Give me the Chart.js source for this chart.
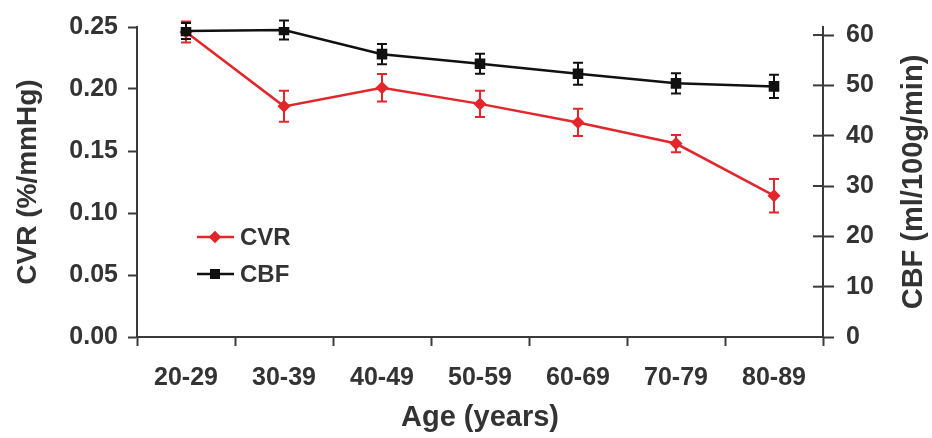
<!DOCTYPE html>
<html>
<head>
<meta charset="utf-8">
<script src="https://cdn.jsdelivr.net/npm/chart.js@4"></script>
<style>
    html, body { margin: 0; padding: 0; background: #fff; }
    #wrap { width: 932px; height: 438px; position: relative; }
</style>
</head>
<body>
<div id="wrap"><canvas id="ageChart"></canvas></div>
<script>
// values
const ageGroups = ['20-29', '30-39', '40-49', '50-59', '60-69', '70-79', '80-89'];
const cvrMean = [0.246, 0.186, 0.201, 0.188, 0.173, 0.156, 0.114];
const cvrErr = [0.0085, 0.0125, 0.011, 0.0105, 0.011, 0.007, 0.0135];
const cbfMean = [60.8, 61.0, 56.2, 54.3, 52.3, 50.4, 49.8];
const cbfErr = [1.6, 1.9, 2.0, 2.0, 2.2, 2.0, 2.3];
const cvrTicks = [0, 0.05, 0.10, 0.15, 0.20, 0.25];
const cbfTicks = [0, 10, 20, 30, 40, 50, 60];

const textColor = '#333333';
const axisColor = '#3a3a3a';
const red = '#e3262b';
const FONT = 'Arial, "Liberation Sans", sans-serif';

// error bars, right axis cross ticks, legend and right title
const extrasPlugin = {
    id: 'extras',
    beforeDatasetsDraw(chart) {
        const ctx = chart.ctx;
        const x = chart.scales.x;
        const bars = [
            { mean: cvrMean, err: cvrErr, scale: chart.scales.y, color: red },
            { mean: cbfMean, err: cbfErr, scale: chart.scales.y1, color: '#111' }
        ];
        ctx.save();
        ctx.lineWidth = 2;
        bars.forEach(b => {
            ctx.strokeStyle = b.color;
            b.mean.forEach((m, i) => {
                const px = x.getPixelForValue(i);
                const top = b.scale.getPixelForValue(m + b.err[i]);
                const bot = b.scale.getPixelForValue(m - b.err[i]);
                ctx.beginPath();
                ctx.moveTo(px, top); ctx.lineTo(px, bot);
                ctx.moveTo(px - 5, top); ctx.lineTo(px + 5, top);
                ctx.moveTo(px - 5, bot); ctx.lineTo(px + 5, bot);
                ctx.stroke();
            });
        });
        ctx.restore();
    },
    afterDraw(chart) {
        const ctx = chart.ctx;
        const area = chart.chartArea;
        const y1 = chart.scales.y1;
        ctx.save();
        // inner half of the right axis ticks
        ctx.strokeStyle = axisColor;
        ctx.lineWidth = 2;
        y1.ticks.forEach(t => {
            const py = y1.getPixelForValue(t.value);
            ctx.beginPath();
            ctx.moveTo(area.right - 10, py);
            ctx.lineTo(area.right, py);
            ctx.stroke();
        });

        // legend inside the plot
        const items = [
            { label: 'CVR', color: red, style: 'rectRot', r: 6, y: 237 },
            { label: 'CBF', color: '#111', style: 'rect', r: 7, y: 274 }
        ];
        ctx.font = 'bold 24px ' + FONT;
        ctx.textBaseline = 'middle';
        ctx.textAlign = 'left';
        items.forEach(it => {
            ctx.strokeStyle = it.color;
            ctx.lineWidth = 2.5;
            ctx.beginPath();
            ctx.moveTo(197, it.y); ctx.lineTo(234, it.y);
            ctx.stroke();
            ctx.fillStyle = it.color;
            Chart.helpers.drawPoint(ctx, { pointStyle: it.style, radius: it.r, borderWidth: 0 }, 215, it.y);
            ctx.fill();
            ctx.fillStyle = textColor;
            ctx.fillText(it.label, 240, it.y + 1);
        });

        // right axis title, reading bottom to top
        ctx.translate(914, (area.top + area.bottom) / 2);
        ctx.rotate(-Math.PI / 2);
        ctx.font = 'bold 29px ' + FONT;
        ctx.textAlign = 'center';
        ctx.fillStyle = textColor;
        ctx.fillText('CBF (ml/100g/min)', 0, 0);
        ctx.restore();
    }
};

function createChart() {
    const ctx = document.getElementById('ageChart').getContext('2d');
    return new Chart(ctx, {
        type: 'line',
        data: {
            labels: ageGroups,
            datasets: [{
                label: 'CBF',
                data: cbfMean,
                yAxisID: 'y1',
                borderColor: '#111',
                backgroundColor: '#111',
                borderWidth: 2.5,
                pointStyle: 'rect',
                pointRadius: 7.5,
                pointBorderWidth: 0,
                tension: 0,
                order: 0
            }, {
                label: 'CVR',
                data: cvrMean,
                yAxisID: 'y',
                borderColor: red,
                backgroundColor: red,
                borderWidth: 2.5,
                pointStyle: 'rectRot',
                pointRadius: 6.5,
                pointBorderWidth: 0,
                tension: 0,
                order: 1
            }]
        },
        options: {
            responsive: true,
            maintainAspectRatio: false,
            animation: false,
            layout: { padding: { top: 23, left: 0, right: 0, bottom: 0 } },
            plugins: {
                legend: { display: false },
                tooltip: { enabled: false }
            },
            scales: {
                x: {
                    offset: true,
                    grid: { offset: true, drawOnChartArea: false, tickLength: 9, tickWidth: 2, tickColor: axisColor },
                    border: { color: axisColor, width: 2 },
                    ticks: { color: textColor, padding: 17, font: { family: FONT, size: 25, weight: 'bold' } },
                    title: {
                        display: true,
                        text: 'Age (years)',
                        color: textColor,
                        padding: { top: 0, bottom: 3 },
                        font: { family: FONT, size: 29, weight: 'bold' }
                    },
                    afterFit: s => { s.height = 101; }
                },
                y: {
                    position: 'left',
                    min: 0,
                    max: 0.25,
                    afterBuildTicks: s => { s.ticks = cvrTicks.map(v => ({ value: v })); },
                    grid: { drawOnChartArea: false, tickLength: 9, tickWidth: 2, tickColor: axisColor },
                    border: { color: axisColor, width: 2 },
                    ticks: {
                        color: textColor,
                        padding: 10,
                        font: { family: FONT, size: 25, weight: 'bold' },
                        callback: v => v.toFixed(2)
                    },
                    title: {
                        display: true,
                        text: 'CVR (%/mmHg)',
                        color: textColor,
                        padding: { top: 11, bottom: 0 },
                        font: { family: FONT, size: 28, weight: 'bold' }
                    },
                    afterFit: s => { s.width = 137; }
                },
                y1: {
                    position: 'right',
                    min: 0,
                    max: 61.6,
                    afterBuildTicks: s => { s.ticks = cbfTicks.map(v => ({ value: v })); },
                    grid: { drawOnChartArea: false, tickLength: 11, tickWidth: 2, tickColor: axisColor },
                    border: { color: axisColor, width: 2 },
                    ticks: {
                        color: textColor,
                        padding: 12,
                        font: { family: FONT, size: 25, weight: 'bold' }
                    },
                    afterFit: s => { s.width = 109; }
                }
            }
        },
        plugins: [extrasPlugin]
    });
}

createChart();
</script>
</body>
</html>
